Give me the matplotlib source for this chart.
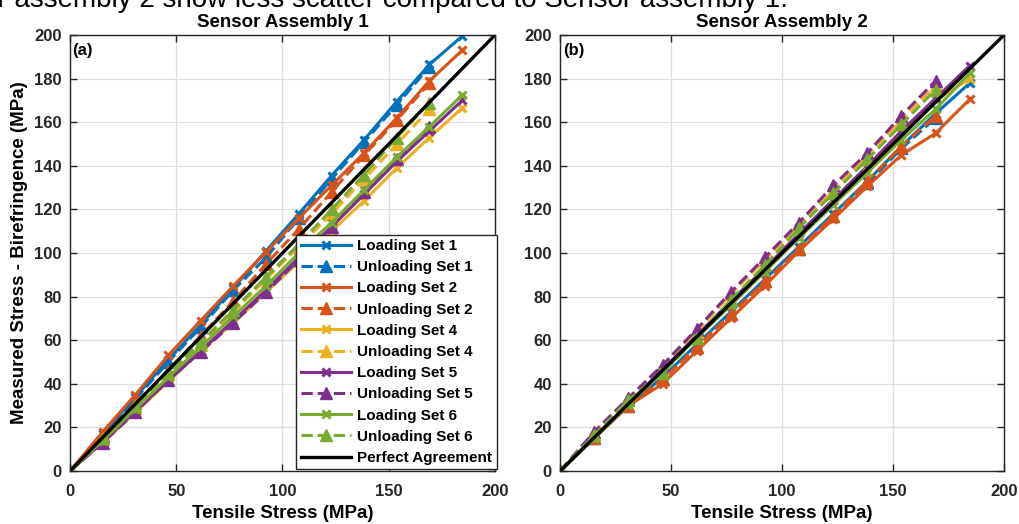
import matplotlib
matplotlib.use("Agg")
import matplotlib.pyplot as plt

plt.rcParams['font.family'] = ['Liberation Sans', 'DejaVu Sans']

# tensile stress steps (MPa)
stress_load = [0, 15.4, 30.8, 46.2, 61.5, 76.9, 92.3, 107.7, 123.1, 138.5, 153.8, 169.2, 184.6]
stress_unload = stress_load[:-1]

# sensor assembly 1
a_load1 = [0, 17, 34, 51, 67, 84, 101, 118, 135.5, 152, 169.5, 186.5, 199.5]
a_unload1 = [0, 16, 33, 50, 66, 83, 98, 116, 134, 151, 168, 185.5]
a_load2 = [0, 18, 35, 53, 69, 85, 100.5, 116, 131, 146, 162, 179, 193]
a_unload2 = [0, 16, 31, 46, 62, 78, 95, 111, 128, 145, 161, 178]
a_load4 = [0, 13, 27, 41, 55, 68, 82, 96, 110, 124, 139, 153, 166.5]
a_unload4 = [0, 14.5, 29, 44, 58, 73, 88, 103, 118, 134, 150, 166]
a_load5 = [0, 13.5, 27.5, 41.5, 55, 69, 83, 98, 112, 127, 142, 156, 170]
a_unload5 = [0, 13, 27, 41.7, 54.6, 68, 82, 97, 112, 128, 143, 158]
a_load6 = [0, 14, 28.5, 43, 57, 71, 85, 100, 114, 129, 144, 158, 172.5]
a_unload6 = [0, 15, 30, 45, 59, 74, 89, 104, 120, 136, 153, 169]

# sensor assembly 2
b_load1 = [0, 15, 30, 43, 58, 73, 88, 103, 118, 133, 149, 164, 178]
b_unload1 = [0, 15, 30, 42, 57, 72, 87, 102, 117, 132, 148, 162]
b_load2 = [0, 15, 30, 40, 55, 70, 85, 101, 115.6, 130.7, 145, 155, 170.6]
b_unload2 = [0, 15, 30, 42, 57, 72, 87, 102, 117, 133, 149, 163]
b_load4 = [0, 15.5, 31, 46, 61.5, 77, 93, 108, 124, 139, 155, 170, 180]
b_unload4 = [0, 17, 33, 48, 64, 81, 97, 113, 129, 145, 161, 177]
b_load5 = [0, 15.5, 31, 46.5, 62, 78, 93, 109, 124.5, 140, 156, 171, 186]
b_unload5 = [0, 18, 33.5, 48.6, 65, 82, 98, 114, 131, 146, 163, 179]
b_load6 = [0, 15, 30.5, 45.5, 61, 76, 91.5, 107, 122, 137, 152, 166, 182.6]
b_unload6 = [0, 16.5, 32.6, 45, 61, 78.4, 94.5, 111.5, 127.5, 143, 159, 175]

set_names = ['1', '2', '4', '5', '6']
colors = ['#0072BD', '#D95319', '#EDB120', '#7E2F8E', '#77AC30']
perfect = [0, 200]

fig = plt.figure(figsize=(10.19, 5.24), dpi=100)
ax1 = fig.add_axes([0.0687, 0.1011, 0.417, 0.832])
ax2 = fig.add_axes([0.5496, 0.1011, 0.4357, 0.832])

fig.text(0.773, 0.9866, 'Sensor assembly 2 show less scatter compared to Sensor assembly 1.',
         ha='right', va='baseline', fontsize=20)


def draw(ax, loads, unloads, title, tag):
    for name, c, yl, yu in zip(set_names, colors, loads, unloads):
        ax.plot(stress_load, yl, '-', color=c, lw=2.2, marker='x', ms=6, mew=2.2,
                label='Loading Set ' + name)
        ax.plot(stress_unload, yu, '--', color=c, lw=2.2, marker='^', ms=9,
                mfc=c, mec=c, label='Unloading Set ' + name)
    ax.plot(perfect, perfect, '-', color='black', lw=2.4, label='Perfect Agreement')
    ax.set_xlim(0, 200)
    ax.set_ylim(0, 200)
    ax.set_xticks(range(0, 201, 50))
    ax.set_yticks(range(0, 201, 20))
    ax.grid(True, color='#dedede', lw=0.9)
    ax.set_axisbelow(True)
    ax.tick_params(direction='in', top=True, right=True, length=5, width=1,
                   labelsize=12, colors='#262626')
    ax.tick_params(axis='x', pad=9)
    ax.tick_params(axis='y', pad=6)
    for lab in ax.get_xticklabels() + ax.get_yticklabels():
        lab.set_fontweight('bold')
    for sp in ax.spines.values():
        sp.set_color('#262626')
        sp.set_linewidth(1)
    ax.set_title(title, fontsize=13.5, fontweight='bold', pad=6)
    ax.set_xlabel('Tensile Stress (MPa)', fontsize=13.5, fontweight='bold', labelpad=5)
    ax.text(0.006, 0.982, tag, transform=ax.transAxes, ha='left', va='top',
            fontsize=12, fontweight='bold')


draw(ax1, [a_load1, a_load2, a_load4, a_load5, a_load6],
     [a_unload1, a_unload2, a_unload4, a_unload5, a_unload6], 'Sensor Assembly 1', '(a)')
draw(ax2, [b_load1, b_load2, b_load4, b_load5, b_load6],
     [b_unload1, b_unload2, b_unload4, b_unload5, b_unload6], 'Sensor Assembly 2', '(b)')

ax1.set_ylabel('Measured Stress - Birefringence (MPa)', fontsize=13.5, fontweight='bold', labelpad=4)

leg = ax1.legend(loc='lower right', bbox_to_anchor=(1.008, 0.0),
                 prop={'weight': 'bold', 'size': 11}, frameon=True, fancybox=False,
                 edgecolor='#262626', framealpha=1, handlelength=3.3, labelspacing=0.47,
                 borderpad=0.3, handletextpad=0.4, borderaxespad=0.1)
leg.get_frame().set_linewidth(1)

fig.savefig('out.png', dpi=100)
